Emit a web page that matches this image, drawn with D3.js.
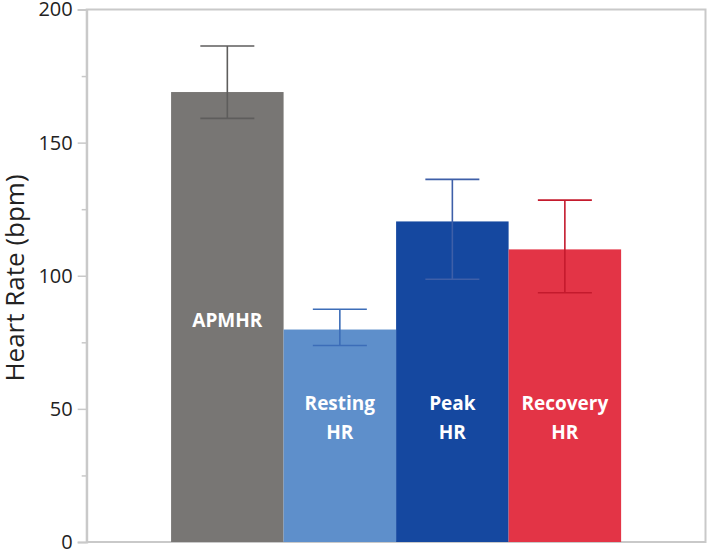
<!DOCTYPE html>
<html>
<head>
<meta charset="utf-8">
<script src="https://cdn.jsdelivr.net/npm/d3@7"></script>
<style>
  html, body { margin: 0; padding: 0; background: #fff; }
  svg { display: block; }
</style>
</head>
<body>
<svg id="chart" width="709" height="552"></svg>
<script>
// ---- data ----
const categories = ["APMHR", "Resting HR", "Peak HR", "Recovery HR"];
const labelLines = [["APMHR"], ["Resting", "HR"], ["Peak", "HR"], ["Recovery", "HR"]];
const values = [169.0, 79.8, 120.4, 109.9];
const errLow = [159.1, 73.8, 98.7, 93.6];
const errHigh = [186.3, 87.4, 136.2, 128.4];
const majorTicks = [0, 50, 100, 150, 200];
const minorTicks = [25, 75, 125, 175];
const barColors = ["#787674", "#5e8fcb", "#1548a0", "#e33446"];
const errColors = ["#5e5d5c", "#3c6db8", "#3e5fa8", "#c41a2d"];

const svg = d3.select("#chart");
const pLeft = 86.7, pRight = 705.5, pTop = 9.5, pBottom = 542;

const x = d3.scaleBand().domain(categories).range([pLeft, pRight]).paddingInner(0).paddingOuter(0.75);
const y = d3.scaleLinear().domain([0, 200]).range([pBottom, pTop]);

// frame
svg.append("rect").attr("x", pLeft).attr("y", pTop).attr("width", pRight - pLeft).attr("height", pBottom - pTop)
  .attr("fill", "none").attr("stroke", "#c9c9c9").attr("stroke-width", 2);

// bars
svg.selectAll("rect.bar").data(categories).enter().append("rect")
  .attr("class", "bar")
  .attr("x", d => x(d))
  .attr("width", x.bandwidth())
  .attr("y", (d, i) => y(values[i]))
  .attr("height", (d, i) => y(0) - y(values[i]))
  .attr("fill", (d, i) => barColors[i]);

// error bars
const capW = x.bandwidth() * 0.48;
categories.forEach((c, i) => {
  const cx = x(c) + x.bandwidth() / 2;
  const g = svg.append("g").attr("stroke", errColors[i]).attr("stroke-width", 1.6);
  g.append("line").attr("x1", cx).attr("x2", cx).attr("y1", y(errLow[i])).attr("y2", y(errHigh[i]));
  g.append("line").attr("x1", cx - capW / 2).attr("x2", cx + capW / 2).attr("y1", y(errHigh[i])).attr("y2", y(errHigh[i]));
  g.append("line").attr("x1", cx - capW / 2).attr("x2", cx + capW / 2).attr("y1", y(errLow[i])).attr("y2", y(errLow[i]));
});

// bar labels
const labelBaselines = [[327], [410, 439], [410, 439], [410, 439]];
categories.forEach((c, i) => {
  const cx = x(c) + x.bandwidth() / 2;
  labelLines[i].forEach((t, j) => {
    svg.append("text").attr("x", cx).attr("y", labelBaselines[i][j])
      .attr("text-anchor", "middle")
      .attr("font-family", "'Open Sans', sans-serif")
      .attr("font-weight", "bold")
      .attr("font-size", 19)
      .attr("fill", "#fff")
      .text(t);
  });
});

// y axis
const yAxis = d3.axisLeft(y).tickValues(majorTicks).tickSize(9).tickPadding(5).tickFormat(d3.format("d"));
const ag = svg.append("g").attr("transform", `translate(${pLeft},0)`).call(yAxis);
ag.select(".domain").attr("stroke", "#c9c9c9").attr("stroke-width", 2);
ag.selectAll(".tick line").attr("stroke", "#c9c9c9").attr("stroke-width", 1.5);
ag.selectAll(".tick text").attr("font-family", "'Open Sans', sans-serif").attr("font-size", 20).attr("fill", "#222");

const minorAxis = d3.axisLeft(y).tickValues(minorTicks).tickSize(5).tickFormat("");
const mg = svg.append("g").attr("transform", `translate(${pLeft},0)`).call(minorAxis);
mg.select(".domain").remove();
mg.selectAll(".tick line").attr("stroke", "#c9c9c9").attr("stroke-width", 1.5);

// y label
svg.append("text")
  .attr("transform", `translate(24,278) rotate(-90)`)
  .attr("text-anchor", "middle")
  .attr("font-family", "'Open Sans', sans-serif")
  .attr("font-size", 26)
  .attr("fill", "#222")
  .text("Heart Rate (bpm)");
</script>
</body>
</html>
